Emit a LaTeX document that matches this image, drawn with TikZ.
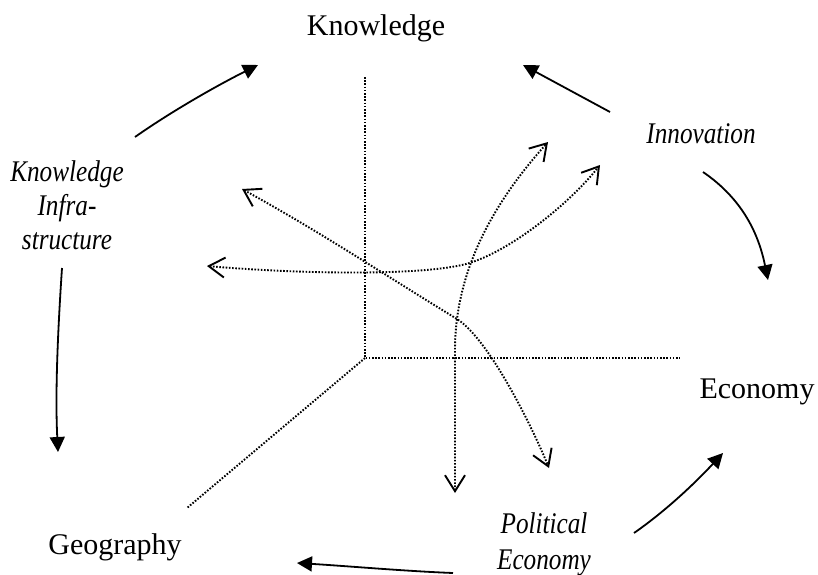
\documentclass[tikz,border=0pt]{standalone}
\usepackage{fontspec}
\setmainfont{Liberation Serif}
\newfontfamily\itfam[FakeStretch=0.84]{Liberation Serif}
\usetikzlibrary{arrows.meta}
\begin{document}
\begin{tikzpicture}[x=1pt,y=-1pt]
\tikzset{
  lbl/.style={font=\fontsize{30}{34}\selectfont, inner sep=0pt},
  ilbl/.style={font=\itfam\itshape\fontsize{30}{34}\selectfont, inner sep=0pt, align=center},
  flow/.style={line width=1.8pt, -{Triangle[length=15pt,width=15pt]}},
  axisline/.style={line width=1.9pt, dash pattern=on 1.6pt off 1.6pt},
  barb/.tip={Straight Barb[length=16pt,width=20pt,line width=1.9pt]},
  link/.style={axisline, barb-barb}
}
\useasboundingbox (0,0) rectangle (818,574);

% labels
\node[lbl, anchor=base] (kn) at (376,35) {Knowledge};
\node[ilbl, anchor=north] (ki) at (67,160) {Knowledge\\Infra-\\structure};
\node[ilbl, anchor=base] (inn) at (701,143) {Innovation};
\node[lbl, anchor=base] (eco) at (757,398) {Economy};
\node[lbl, anchor=base] (geo) at (115,554) {Geography};
\node[ilbl, anchor=north, font=\itfam\itshape\fontsize{30}{36}\selectfont] (pe) at (544,512) {Political\\Economy};

% connector ends
\coordinate (ki-up) at (135,137);
\coordinate (kn-in1) at (258,65);
\coordinate (inn-up) at (610,112);
\coordinate (kn-in2) at (523,65);
\coordinate (inn-down) at (703,172);
\coordinate (eco-in) at (768,280);
\coordinate (pe-right) at (634,533);
\coordinate (eco-in2) at (723,453);
\coordinate (pe-left) at (453,573);
\coordinate (geo-in) at (297,563);
\coordinate (ki-down) at (62,268);
\coordinate (geo-in2) at (58,452);

% solid cycle arrows
\draw[flow] (ki-up) .. controls (172,111) and (218,85) .. (kn-in1);
\draw[flow] (inn-up) -- (kn-in2);
\draw[flow] (inn-down) .. controls (744,200) and (759,236) .. (eco-in);
\draw[flow] (pe-right) .. controls (667,510) and (696,482) .. (eco-in2);
\draw[flow] (pe-left) .. controls (403,571) and (347,566) .. (geo-in);
\draw[flow] (ki-down) .. controls (58,328) and (55,392) .. (geo-in2);

% axes
\coordinate (o) at (365,358);
\coordinate (ax-top) at (365,77);
\coordinate (ax-right) at (680,358);
\coordinate (ax-diag) at (187,508);
\draw[axisline] (ax-top) -- (o) -- (ax-right);
\draw[axisline] (o) -- (ax-diag);

% dotted double arrows
\coordinate (a-bot) at (455,493);
\coordinate (a-top) at (548,142);
\coordinate (b-left) at (207,266);
\coordinate (b-right) at (600,165);
\coordinate (c-left) at (242,189);
\coordinate (c-bot) at (549,468);
\draw[link] (a-bot) -- (455,350) .. controls (455,260) and (505,190) .. (a-top);
\draw[link] (b-left) .. controls (300,274) and (420,276) .. (466,264)
  .. controls (510,252) and (570,203) .. (b-right);
\draw[link] (c-left) .. controls (322,233) and (380,272) .. (457,319)
  .. controls (490,340) and (534,431) .. (c-bot);
\end{tikzpicture}
\end{document}
